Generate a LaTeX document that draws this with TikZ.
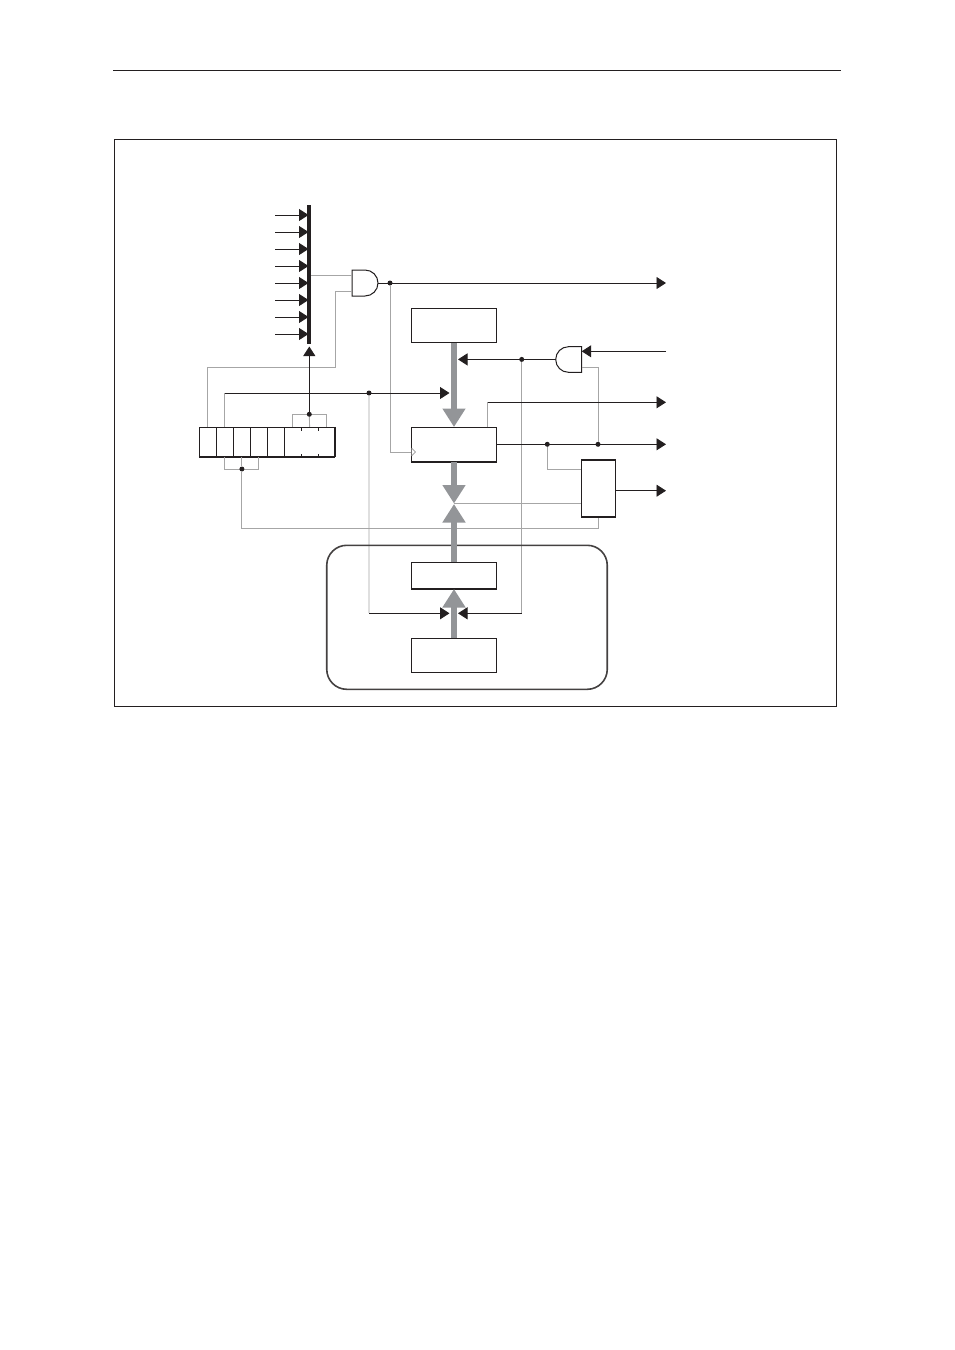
\documentclass[tikz,border=0pt]{standalone}
\usetikzlibrary{arrows.meta}
\definecolor{ink}{HTML}{231F20}
\definecolor{busgray}{HTML}{939598}
\tikzset{
    wire/.style={draw=ink, line width=0.9pt},
    sig/.style={wire, -{Triangle[length=9.5pt,width=12pt]}},
    halfwire/.style={draw=gray!70, line width=0.9pt},
    palewire/.style={draw=gray!25, line width=1.6pt},
    darkwire/.style={draw=gray!130!black, line width=0.9pt},
    bus/.style={draw=busgray, line width=6pt, -{Triangle[length=18.5pt,width=22pt]}},
    box/.style={draw=ink, line width=1pt, inner sep=0pt, fill=white},
    cell/.style={box, minimum width=17pt, minimum height=29.5pt},
    gatebody/.style={draw=ink, line width=1pt, fill=white},
    junction/.style={circle, fill=ink, inner sep=0pt, minimum size=5pt}
}
\begin{document}
\begin{tikzpicture}[x=1pt, y=-1pt]
    \useasboundingbox (0,0) rectangle (954,1350);

    \coordinate (ruleL) at (113,70.5);
    \coordinate (ruleR) at (841,70.5);
    \draw[wire] (ruleL) -- (ruleR);
    \node[draw=ink, line width=0.8pt, minimum width=722pt, minimum height=567pt, inner sep=0pt] (frame) at (475,423) {};

    \node[fill=ink, inner sep=0pt, minimum width=4pt, minimum height=139pt] (inbus) at (309.3,274.5) {};
    \coordinate (i1) at (275,215);
    \coordinate (i2) at (275,232);
    \coordinate (i3) at (275,249);
    \coordinate (i4) at (275,266);
    \coordinate (i5) at (275,283);
    \coordinate (i6) at (275,300);
    \coordinate (i7) at (275,317);
    \coordinate (i8) at (275,334);
    \draw[sig] (i1) -- (308.5,215);
    \draw[sig] (i2) -- (308.5,232);
    \draw[sig] (i3) -- (308.5,249);
    \draw[sig] (i4) -- (308.5,266);
    \draw[sig] (i5) -- (308.5,283);
    \draw[sig] (i6) -- (308.5,300);
    \draw[sig] (i7) -- (308.5,317);
    \draw[sig] (i8) -- (308.5,334);

    \draw[gatebody] (352,270) -- (365,270) arc[start angle=90, end angle=-90, radius=13pt] -- (352,296) -- cycle;
    \draw[gatebody] (581.7,346.7) -- (568.5,346.7) arc[start angle=90, end angle=270, radius=12.8pt] -- (581.7,372.3) -- cycle;
    \coordinate (andAin1) at (352,275);
    \coordinate (andAin2) at (352,291);
    \coordinate (andAout) at (378,283);
    \coordinate (andBin1) at (581.7,351.3);
    \coordinate (andBin2) at (581.7,367.5);
    \coordinate (andBout) at (555.7,359.4);

    \node[box, minimum width=85.5pt, minimum height=34pt] (bufTop) at (454,325.5) {};
    \node[box, minimum width=85.5pt, minimum height=33.5pt] (regMid) at (454,444.3) {};
    \node[box, minimum width=34pt, minimum height=55.5pt] (outBox) at (598.6,488.5) {};
    \node[box, minimum width=85pt, minimum height=25.5pt] (bufLow) at (454,575.3) {};
    \node[box, minimum width=85pt, minimum height=34.5pt] (bufEnd) at (454,655.3) {};

    \node[cell] (c1) at (207.9,442) {};
    \node[cell] (c2) at (224.9,442) {};
    \node[cell] (c3) at (241.9,442) {};
    \node[cell] (c4) at (258.9,442) {};
    \node[cell] (c5) at (275.9,442) {};
    \node[cell, minimum width=50.5pt] (c6) at (309.6,442) {};
    \draw[draw=ink, line width=2pt] (c1.south west) -- (c6.south east);
    \draw[draw=ink, line width=2pt] (c6.north east) -- (c6.south east);
    \draw[wire] (301.3,427.3) -- (301.3,430.5);
    \draw[wire] (318.3,427.3) -- (318.3,430.5);
    \draw[wire] (301.3,456.7) -- (301.3,453.5);
    \draw[wire] (318.3,456.7) -- (318.3,453.5);

    \coordinate (busTap) at (311,275);
    \draw[halfwire] (busTap) -- (andAin1);
    \coordinate (gA) at (335,291);
    \coordinate (gB) at (335,367);
    \coordinate (gC) at (207.9,367);
    \draw[halfwire] (andAin2) -- (gA) -- (gB) -- (gC) -- (c1.north);

    \coordinate (qOut) at (666,283);
    \draw[sig] (andAout) -- (qOut);
    \node[junction] (jOut) at (390,283) {};
    \coordinate (clkA) at (390,452);
    \draw[halfwire] (jOut) -- (clkA) -- (regMid.west |- clkA);
    \coordinate (clkB) at (415.5,452);
    \draw[draw=gray, line width=0.6pt, fill=white] (411.5,448) -- (clkB) -- (411.5,456);

    \coordinate (brA) at (292.6,414.3);
    \coordinate (brB) at (326.6,414.3);
    \draw[halfwire] (c6.north -| brA) -- (brA) -- (brB) -- (c6.north -| brB);
    \node[junction] (jCtl) at (309.3,414.3) {};
    \coordinate (busIn) at (309.3,346.5);
    \draw[sig] (jCtl) -- (busIn);
    \draw[halfwire] (jCtl) -- (c6.north);

    \coordinate (ldA) at (224.9,393);
    \draw[halfwire] (c2.north) -- (ldA);
    \coordinate (ldB) at (449.5,393);
    \draw[sig] (ldA) -- (ldB);
    \node[junction] (jLd) at (369,393) {};
    \coordinate (ldC) at (369,613.3);
    \coordinate (ldD) at (449.5,613.3);
    \draw[palewire] (jLd) -- (ldC);
    \draw[sig] (ldC) -- (ldD);

    \coordinate (brC) at (224.9,469);
    \coordinate (brD) at (258.9,469);
    \draw[halfwire] (c2.south) -- (brC) -- (brD) -- (c4.south);
    \node[junction] (jSel) at (241.9,469) {};
    \coordinate (selA) at (241.9,528.5);
    \coordinate (selB) at (598.6,528.5);
    \draw[halfwire] (selA) -- (selB) -- (outBox.south);
    \draw[darkwire] (c3.south) -- (jSel) -- (selA);

    \coordinate (rdA) at (666,351.3);
    \draw[sig] (rdA) -- (andBin1);
    \coordinate (rdB) at (458,359.4);
    \draw[sig] (andBout) -- (rdB);
    \node[junction] (jRd) at (521.7,359.4) {};
    \coordinate (rdC) at (521.7,613.3);
    \coordinate (rdD) at (458,613.3);
    \draw[halfwire] (jRd) -- (rdC);
    \draw[sig] (rdC) -- (rdD);

    \coordinate (qQ) at (666,444.3);
    \draw[sig] (regMid.east) -- (qQ);
    \node[junction] (jQa) at (547.3,444.3) {};
    \node[junction] (jQb) at (598,444.3) {};
    \coordinate (fbA) at (598,367.5);
    \draw[halfwire] (andBin2) -- (fbA) -- (jQb);
    \coordinate (dvA) at (547.3,469.5);
    \draw[halfwire] (jQa) -- (dvA) -- (outBox.west |- dvA);

    \coordinate (flA) at (487.7,402.3);
    \coordinate (flB) at (666,402.3);
    \draw[halfwire] (regMid.north -| flA) -- (flA);
    \draw[sig] (flA) -- (flB);

    \coordinate (ovA) at (666,490.7);
    \draw[sig] (outBox.east |- ovA) -- (ovA);
    \coordinate (mxA) at (454,503.3);
    \draw[darkwire] (mxA) -- (outBox.west |- mxA);
    \draw[draw=ink, line width=2pt] (outBox.north west) -- (outBox.north east);
    \draw[draw=ink, line width=1.5pt] (outBox.south west) -- (outBox.south east);
    \draw[draw=ink, line width=2pt] (regMid.south west) -- (regMid.south east);
    \draw[draw=ink, line width=2pt] (bufLow.south west) -- (bufLow.south east);

    \node[draw=ink!85, line width=1.6pt, rounded corners=20pt, minimum width=280.5pt, minimum height=144pt, inner sep=0pt] (module) at (467,617.3) {};

    \coordinate (mzA) at (454,427);
    \coordinate (mzB) at (454,503.5);
    \coordinate (mzC) at (454,504);
    \coordinate (mzD) at (454,589);
    \draw[bus] (bufTop.south) -- (mzA);
    \draw[bus] (regMid.south) -- (mzB);
    \draw[bus] (bufLow.north) -- (mzC);
    \draw[bus] (bufEnd.north) -- (mzD);
\end{tikzpicture}
\end{document}
